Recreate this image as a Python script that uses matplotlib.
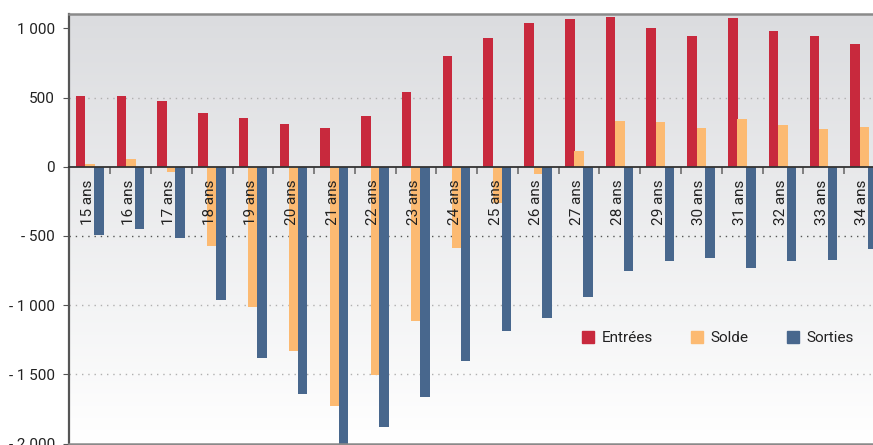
import matplotlib
matplotlib.use("Agg")
import matplotlib.pyplot as plt
import numpy as np
from matplotlib.colors import LinearSegmentedColormap
from matplotlib.patches import Patch

plt.rcParams["font.family"] = ["Roboto", "DejaVu Sans"]

# Data
ages = ["15 ans", "16 ans", "17 ans", "18 ans", "19 ans", "20 ans", "21 ans",
        "22 ans", "23 ans", "24 ans", "25 ans", "26 ans", "27 ans", "28 ans",
        "29 ans", "30 ans", "31 ans", "32 ans", "33 ans", "34 ans"]
entrees = [515, 515, 478, 391, 355, 312, 283, 370, 543, 804,
           928, 1043, 1065, 1080, 1000, 949, 1072, 978, 949, 891]
solde = [22, 58, -36, -570, -1015, -1335, -1730, -1505, -1115, -590,
         -259, -51, 116, 333, 326, 283, 348, 304, 275, 290]
sorties = [-490, -450, -515, -962, -1382, -1643, -2015, -1882, -1665, -1402,
           -1186, -1092, -942, -752, -680, -660, -732, -680, -672, -592]

yticks = [1000, 500, 0, -500, -1000, -1500, -2000]
ytick_labels = ["1 000", "500", "0", "- 500", "- 1 000", "- 1 500", "- 2 000"]

RED = "#C8293D"
ORANGE = "#FCBA72"
BLUE = "#48678D"

fig = plt.figure(figsize=(8.73, 4.45), dpi=100)
ax = fig.add_axes([69 / 873, 1.5 / 445, 1 - 69 / 873, (444 - 14.7) / 445])

x = np.arange(len(ages))
width = 0.235

# Background gradient
cmap = LinearSegmentedColormap.from_list("bg", ["#FFFFFF", "#DBDCDF"])
grad = np.linspace(0, 1, 256).reshape(-1, 1)
ax.imshow(grad, extent=[0, 1, 0, 1], transform=ax.transAxes, aspect="auto",
          cmap=cmap, origin="lower", zorder=0)

# Dotted gridlines
for val in yticks[1:-1]:
    if val == 0:
        continue
    col = "#555555" if val == -500 else "#B0B0B0"
    ax.axhline(val, color=col, linestyle=(0, (1, 3.5)), linewidth=1.0, zorder=1)

ax.bar(x - 0.23, entrees, width, color=RED, zorder=1.2, label="Entrées")
ax.bar(x, solde, width, color=ORANGE, zorder=1.2, label="Solde")
ax.bar(x + 0.215, sorties, width, color=BLUE, zorder=1.2, label="Sorties")

ax.set_xlim(-0.515, 19.21)
ax.set_ylim(-2000, 1103)

# Axes styling
ax.spines["bottom"].set_position(("data", 0))
ax.spines["bottom"].set_color("#333333")
ax.spines["bottom"].set_linewidth(1.3)
ax.spines["bottom"].set_zorder(3)
ax.spines["right"].set_visible(False)
ax.spines["top"].set_color("#8A8A8A")
ax.spines["top"].set_linewidth(1.8)
ax.spines["left"].set_color("#555555")
ax.spines["left"].set_linewidth(1.6)
ax.plot([0, 1], [0, 0], transform=ax.transAxes, color="#8A8A8A",
        linewidth=1.8, clip_on=False, zorder=3)

ax.set_xticks(x[:-1] + 0.5)
ax.set_xticklabels([])
ax.tick_params(axis="x", which="major", direction="out", length=5,
               color="#777777", width=1.3)
ax.set_xticks(x - 0.05, labels=ages, minor=True)
ax.tick_params(axis="x", which="minor", length=0, pad=9, labelsize=11,
               labelrotation=90, labelcolor="#222222")

ax.set_yticks(yticks, labels=ytick_labels)
ax.tick_params(axis="y", direction="out", length=4, color="#555555",
               labelsize=11, labelcolor="#222222", pad=6)

handles = [Patch(color=RED, label="Entrées"),
           Patch(color=ORANGE, label="Solde"),
           Patch(color=BLUE, label="Sorties")]
fig.legend(handles=handles, loc="center left",
           bbox_to_anchor=(574 / 873, 1 - 338 / 445), ncol=3, frameon=False,
           fontsize=11, handlelength=0.8, handleheight=0.8,
           handletextpad=0.5, columnspacing=2.5, borderpad=0,
           labelcolor="#222222")

fig.savefig("out.png", dpi=100, facecolor="white")
